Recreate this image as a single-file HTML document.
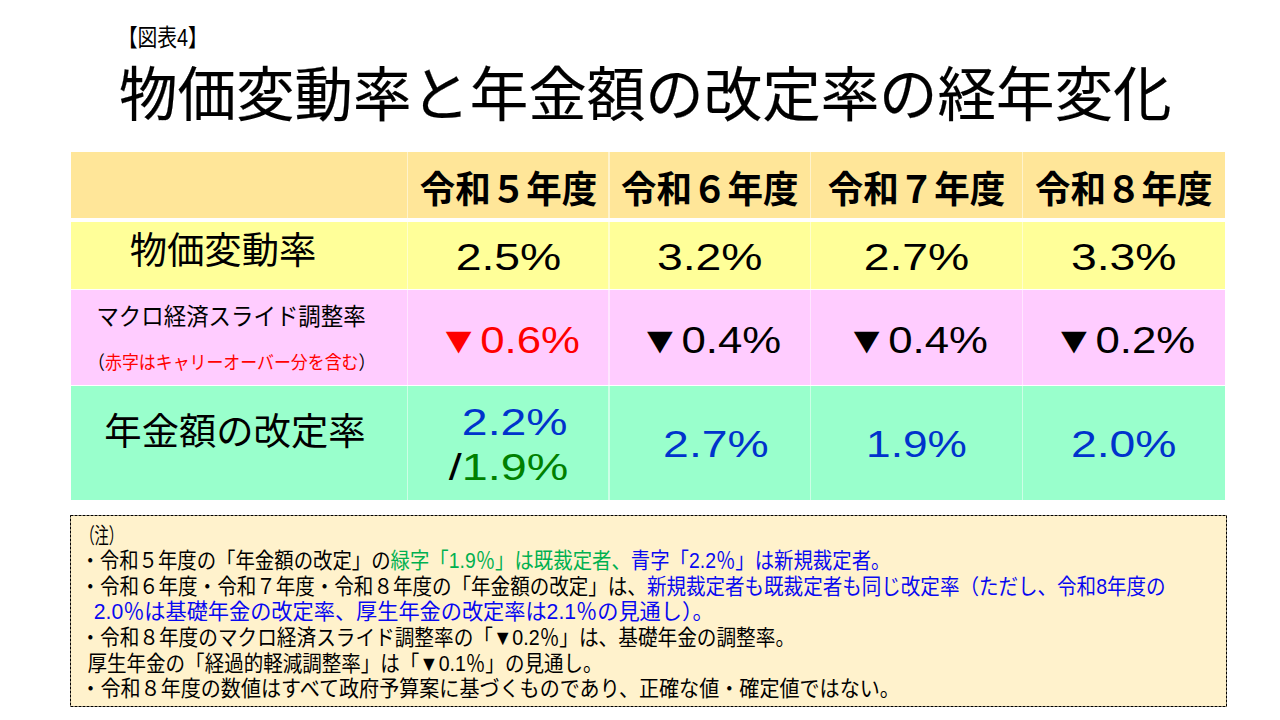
<!DOCTYPE html>
<html lang="ja"><head><meta charset="utf-8"><title>物価変動率と年金額の改定率の経年変化</title>
<style>
html,body{margin:0;padding:0;background:#fff;}
body{width:1280px;height:720px;position:relative;overflow:hidden;font-family:"Liberation Sans","Noto Sans CJK JP",sans-serif;}
#tbl{position:absolute;left:71px;top:152px;width:1154px;height:348px;}
.row{position:absolute;left:0;width:1154px;}
.vl{position:absolute;top:0;width:1.3px;height:348px;background:rgba(255,255,255,.5);}
#note{position:absolute;left:70px;top:515px;width:1157px;height:192px;background:#fff2cc;}
#glyphs{position:absolute;left:0;top:0;}
#glyphs text{font-family:"Liberation Sans","Noto Sans CJK JP",sans-serif;}
.t{position:absolute;margin:0;padding:0;white-space:pre;color:transparent;line-height:1;overflow:hidden;font-weight:normal;}
.t.b{font-weight:bold;}
</style></head><body>
<div id="tbl"><div class="row" style="top:0px;height:66px;background:#ffe699"></div><div class="row" style="top:70px;height:66.8px;background:#ffff99"></div><div class="row" style="top:137.8px;height:95.5px;background:#ffccff"></div><div class="row" style="top:234.3px;height:113.7px;background:#99ffcc"></div><div class="vl" style="left:336.2px"></div><div class="vl" style="left:537.4px"></div><div class="vl" style="left:738.6px"></div><div class="vl" style="left:950.6px"></div></div>
<div id="note"><svg width="1157" height="192" viewBox="0 0 1157 192" style="position:absolute;left:0;top:0"><rect x="0.5" y="0.5" width="1156" height="191" fill="none" stroke="#000" stroke-width="1" stroke-dasharray="3 1"/></svg></div>
<p class="t" style="left:117.7px;top:25.08px;width:90.23px;height:24px;font-size:24px">【図表4】</p>
<h1 class="t" style="left:119px;top:64.37px;width:1052.48px;height:58.67px;font-size:58.67px">物価変動率と年金額の改定率の経年変化</h1>
<p class="t b" style="left:419.65px;top:169.75px;width:177.7px;height:37.33px;font-size:37.33px">令和５年度</p>
<p class="t b" style="left:620.9px;top:169.75px;width:177.7px;height:37.33px;font-size:37.33px">令和６年度</p>
<p class="t b" style="left:827.65px;top:169.75px;width:177.7px;height:37.33px;font-size:37.33px">令和７年度</p>
<p class="t b" style="left:1034.9px;top:169.75px;width:177.7px;height:37.33px;font-size:37.33px">令和８年度</p>
<p class="t" style="left:129.7px;top:231.55px;width:186.67px;height:37.33px;font-size:37.33px">物価変動率</p>
<p class="t" style="left:455.68px;top:236.75px;width:105.64px;height:37.33px;font-size:37.33px">2.5%</p>
<p class="t" style="left:656.93px;top:236.75px;width:105.64px;height:37.33px;font-size:37.33px">3.2%</p>
<p class="t" style="left:863.68px;top:236.75px;width:105.64px;height:37.33px;font-size:37.33px">2.7%</p>
<p class="t" style="left:1070.93px;top:236.75px;width:105.64px;height:37.33px;font-size:37.33px">3.3%</p>
<p class="t" style="left:96.4px;top:304.08px;width:269.29px;height:24px;font-size:24px">マクロ経済スライド調整率</p>
<p class="t" style="left:88.1px;top:352.77px;width:287.28px;height:18.67px;font-size:18.67px">（赤字はキャリーオーバー分を含む）</p>
<p class="t" style="left:437.01px;top:319.85px;width:142.97px;height:37.33px;font-size:37.33px">▼0.6%</p>
<p class="t" style="left:638.26px;top:319.85px;width:142.97px;height:37.33px;font-size:37.33px">▼0.4%</p>
<p class="t" style="left:845.01px;top:319.85px;width:142.97px;height:37.33px;font-size:37.33px">▼0.4%</p>
<p class="t" style="left:1052.26px;top:319.85px;width:142.97px;height:37.33px;font-size:37.33px">▼0.2%</p>
<p class="t" style="left:104.3px;top:412.15px;width:261.33px;height:37.33px;font-size:37.33px">年金額の改定率</p>
<p class="t" style="left:461.88px;top:402.35px;width:105.64px;height:37.33px;font-size:37.33px">2.2%</p>
<p class="t" style="left:448.77px;top:447.35px;width:119.46px;height:37.33px;font-size:37.33px">/1.9%</p>
<p class="t" style="left:663.13px;top:424.15px;width:105.64px;height:37.33px;font-size:37.33px">2.7%</p>
<p class="t" style="left:866.11px;top:424.15px;width:100.79px;height:37.33px;font-size:37.33px">1.9%</p>
<p class="t" style="left:1070.93px;top:424.15px;width:105.64px;height:37.33px;font-size:37.33px">2.0%</p>
<p class="t" style="left:80.4px;top:524.03px;width:42.67px;height:21.33px;font-size:21.33px">（注）</p>
<p class="t" style="left:80.4px;top:549.58px;width:810.02px;height:21.33px;font-size:21.33px">・令和５年度の「年金額の改定」の緑字「1.9％」は既裁定者、青字「2.2％」は新規裁定者。</p>
<p class="t" style="left:80.4px;top:575.13px;width:1085.23px;height:21.33px;font-size:21.33px">・令和６年度・令和７年度・令和８年度の「年金額の改定」は、新規裁定者も既裁定者も同じ改定率（ただし、令和8年度の</p>
<p class="t" style="left:79.5px;top:600.68px;width:634.17px;height:21.33px;font-size:21.33px">　2.0％は基礎年金の改定率、厚生年金の改定率は2.1％の見通し）。</p>
<p class="t" style="left:80.4px;top:626.23px;width:714.67px;height:21.33px;font-size:21.33px">・令和８年度のマクロ経済スライド調整率の「▼0.2％」は、基礎年金の調整率。</p>
<p class="t" style="left:80.4px;top:651.78px;width:522.1px;height:21.33px;font-size:21.33px"> 厚生年金の「経過的軽減調整率」は「▼0.1％」の見通し。</p>
<p class="t" style="left:80.4px;top:677.33px;width:819.44px;height:21.33px;font-size:21.33px">・令和８年度の数値はすべて政府予算案に基づくものであり、正確な値・確定値ではない。</p>
<svg id="glyphs" width="1280" height="720" viewBox="0 0 1280 720" aria-hidden="true">
<text x="117.7" y="46.2" font-size="24" fill="#000" textLength="90.23" lengthAdjust="spacingAndGlyphs">【図表4】</text>
<text x="119" y="116" font-size="58.67" fill="#000" stroke="#000" stroke-width="0.2" textLength="1052.48" lengthAdjust="spacingAndGlyphs">物価変動率と年金額の改定率の経年変化</text>
<text x="419.65" y="202.6" font-size="37.33" font-weight="bold" fill="#000" textLength="177.7" lengthAdjust="spacingAndGlyphs">令和５年度</text>
<text x="620.9" y="202.6" font-size="37.33" font-weight="bold" fill="#000" textLength="177.7" lengthAdjust="spacingAndGlyphs">令和６年度</text>
<text x="827.65" y="202.6" font-size="37.33" font-weight="bold" fill="#000" textLength="177.7" lengthAdjust="spacingAndGlyphs">令和７年度</text>
<text x="1034.9" y="202.6" font-size="37.33" font-weight="bold" fill="#000" textLength="177.7" lengthAdjust="spacingAndGlyphs">令和８年度</text>
<text x="129.7" y="264.4" font-size="37.33" fill="#000" textLength="186.67" lengthAdjust="spacingAndGlyphs">物価変動率</text>
<text x="455.68" y="269.6" font-size="37.33" fill="#000" textLength="105.64" lengthAdjust="spacingAndGlyphs">2.5%</text>
<text x="656.93" y="269.6" font-size="37.33" fill="#000" textLength="105.64" lengthAdjust="spacingAndGlyphs">3.2%</text>
<text x="863.68" y="269.6" font-size="37.33" fill="#000" textLength="105.64" lengthAdjust="spacingAndGlyphs">2.7%</text>
<text x="1070.93" y="269.6" font-size="37.33" fill="#000" textLength="105.64" lengthAdjust="spacingAndGlyphs">3.3%</text>
<text x="96.4" y="325.2" font-size="24" fill="#000" textLength="269.29" lengthAdjust="spacingAndGlyphs">マクロ経済スライド調整率</text>
<text x="88.1" y="369.2" font-size="18.67" fill="#000" textLength="287.28" lengthAdjust="spacingAndGlyphs">（<tspan fill="#ff0000">赤字はキャリーオーバー分を含む</tspan>）</text>
<text x="437.01" y="352.7" font-size="37.33" fill="#ff0000" textLength="142.97" lengthAdjust="spacingAndGlyphs">▼0.6%</text>
<text x="638.26" y="352.7" font-size="37.33" fill="#000" textLength="142.97" lengthAdjust="spacingAndGlyphs">▼0.4%</text>
<text x="845.01" y="352.7" font-size="37.33" fill="#000" textLength="142.97" lengthAdjust="spacingAndGlyphs">▼0.4%</text>
<text x="1052.26" y="352.7" font-size="37.33" fill="#000" textLength="142.97" lengthAdjust="spacingAndGlyphs">▼0.2%</text>
<text x="104.3" y="445" font-size="37.33" fill="#000" textLength="261.33" lengthAdjust="spacingAndGlyphs">年金額の改定率</text>
<text x="461.88" y="435.2" font-size="37.33" fill="#0033cc" textLength="105.64" lengthAdjust="spacingAndGlyphs">2.2%</text>
<text x="448.77" y="480.2" font-size="37.33" fill="#000" textLength="119.46" lengthAdjust="spacingAndGlyphs">/<tspan fill="#008000">1.9%</tspan></text>
<text x="663.13" y="457" font-size="37.33" fill="#0033cc" textLength="105.64" lengthAdjust="spacingAndGlyphs">2.7%</text>
<text x="866.11" y="457" font-size="37.33" fill="#0033cc" textLength="100.79" lengthAdjust="spacingAndGlyphs">1.9%</text>
<text x="1070.93" y="457" font-size="37.33" fill="#0033cc" textLength="105.64" lengthAdjust="spacingAndGlyphs">2.0%</text>
<text x="80.4" y="542.8" font-size="21.33" fill="#000" textLength="42.67" lengthAdjust="spacingAndGlyphs">（注）</text>
<text x="80.4" y="568.35" font-size="21.33" fill="#000" textLength="810.02" lengthAdjust="spacingAndGlyphs">・令和５年度の「年金額の改定」の<tspan fill="#00b050">緑字「1.9％」は既裁定者、</tspan><tspan fill="#0808f0">青字「2.2％」は新規裁定者。</tspan></text>
<text x="80.4" y="593.9" font-size="21.33" fill="#000" textLength="1085.23" lengthAdjust="spacingAndGlyphs">・令和６年度・令和７年度・令和８年度の「年金額の改定」は、<tspan fill="#0808f0">新規裁定者も既裁定者も同じ改定率（ただし、令和8年度の</tspan></text>
<text x="93.72" y="619.45" font-size="21.33" fill="#0808f0" textLength="619.95" lengthAdjust="spacingAndGlyphs">2.0％は基礎年金の改定率、厚生年金の改定率は2.1％の見通し）。</text>
<text x="80.4" y="645" font-size="21.33" fill="#000" textLength="714.67" lengthAdjust="spacingAndGlyphs">・令和８年度のマクロ経済スライド調整率の「▼0.2％」は、基礎年金の調整率。</text>
<text x="87.51" y="670.55" font-size="21.33" fill="#000" textLength="514.99" lengthAdjust="spacingAndGlyphs">厚生年金の「経過的軽減調整率」は「▼0.1％」の見通し。</text>
<text x="80.4" y="696.1" font-size="21.33" fill="#000" textLength="819.44" lengthAdjust="spacingAndGlyphs">・令和８年度の数値はすべて政府予算案に基づくものであり、正確な値・確定値ではない。</text>
</svg>
</body></html>
